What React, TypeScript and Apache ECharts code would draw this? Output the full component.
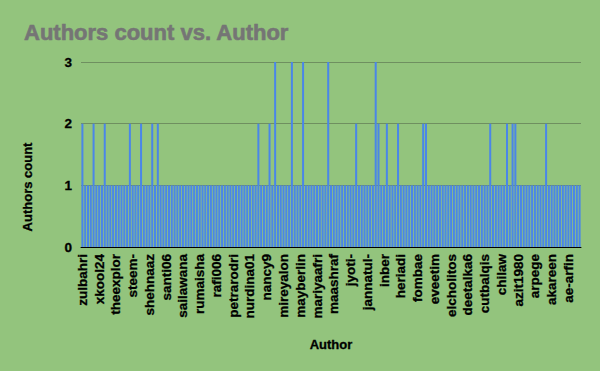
import React, { useEffect, useRef } from "react";
import * as echarts from "echarts";

// Every 6th author is labelled on the axis; the others are hidden.
const shownAuthors: string[] = [
  "zulbahri", "xkool24", "theexplor", "steem-", "shehnaaz", "santi06",
  "sailawana", "rumaisha", "rafi006", "petrarodri", "nurdina01", "nancy9",
  "mireyalon", "mayberlin", "mariyaafri", "maashraf", "jyoti-", "jannatul-",
  "inber", "heriadi", "fombae", "eveetim", "elcholitos", "deetalka6",
  "cutbalqis", "chilaw", "azit1980", "arpege", "akareen", "ae-arfin",
];

const authorsCount: number[] = [
  2, 1, 1, 1, 2, 1, 1, 1, 2, 1,
  1, 1, 1, 1, 1, 1, 1, 2, 1, 1,
  1, 2, 1, 1, 1, 2, 1, 2, 1, 1,
  1, 1, 1, 1, 1, 1, 1, 1, 1, 1,
  1, 1, 1, 1, 1, 1, 1, 1, 1, 1,
  1, 1, 1, 1, 1, 1, 1, 1, 1, 1,
  1, 1, 1, 2, 1, 1, 1, 2, 1, 3,
  1, 1, 1, 1, 1, 3, 1, 1, 1, 3,
  1, 1, 1, 1, 1, 1, 1, 1, 3, 1,
  1, 1, 1, 1, 1, 1, 1, 1, 2, 1,
  1, 1, 1, 1, 1, 3, 2, 1, 1, 2,
  1, 1, 1, 2, 1, 1, 1, 1, 1, 1,
  1, 1, 2, 2, 1, 1, 1, 1, 1, 1,
  1, 1, 1, 1, 1, 1, 1, 1, 1, 1,
  1, 1, 1, 1, 1, 1, 2, 1, 1, 1,
  1, 1, 2, 1, 2, 2, 1, 1, 1, 1,
  1, 1, 1, 1, 1, 1, 2, 1, 1, 1,
  1, 1, 1, 1, 1, 1, 1, 1, 1,
];

const labelEvery = 6;
const yTicks: number[] = [0, 1, 2, 3];
const titleText = "Authors count vs. Author";
const xTitle = "Author";
const yTitle = "Authors count";

const categories: string[] = authorsCount.map((_, i) =>
  i % labelEvery === 0 ? shownAuthors[i / labelEvery] ?? "" : ""
);

const FONT = "'Liberation Sans', Arial, sans-serif";
const heavy = (color: string, width: number) => ({
  textBorderColor: color,
  textBorderWidth: width,
});

export default function App() {
  const ref = useRef<HTMLDivElement>(null);
  useEffect(() => {
    if (!ref.current) return;
    const chart = echarts.init(ref.current, undefined, { renderer: "svg" });
    chart.setOption({
      animation: false,
      backgroundColor: "#93c47d",
      title: {
        text: titleText,
        left: 19,
        top: 16,
        textStyle: {
          fontFamily: FONT,
          fontSize: 22,
          fontWeight: "bold",
          color: "#757575",
          ...heavy("#757575", 0.6),
        },
      },
      graphic: [
        {
          type: "text",
          x: 27,
          y: 187,
          rotation: Math.PI / 2,
          style: {
            text: yTitle,
            fontFamily: FONT,
            fontSize: 13,
            fontWeight: "bold",
            fill: "#000",
            align: "center",
            verticalAlign: "middle",
            stroke: "#000",
            lineWidth: 0.3,
          },
        },
      ],
      grid: { left: 81, right: 19, top: 62, bottom: 124 },
      xAxis: {
        type: "category",
        data: categories,
        name: xTitle,
        nameLocation: "middle",
        nameGap: 91,
        nameTextStyle: {
          fontFamily: FONT,
          fontSize: 13,
          fontWeight: "bold",
          color: "#000",
          ...heavy("#000", 0.3),
        },
        axisLine: { show: true, lineStyle: { color: "#000", width: 1 } },
        axisTick: { show: false },
        axisLabel: {
          interval: labelEvery - 1,
          rotate: 90,
          margin: 7,
          fontFamily: FONT,
          fontSize: 13.5,
          fontWeight: "bold",
          color: "#000",
          ...heavy("#000", 0.3),
        },
      },
      yAxis: {
        type: "value",
        min: yTicks[0],
        max: yTicks[yTicks.length - 1],
        interval: 1,
        axisLine: { show: false },
        axisTick: { show: false },
        axisLabel: {
          margin: 9,
          fontFamily: FONT,
          fontSize: 13.5,
          fontWeight: "bold",
          color: "#000",
          ...heavy("#000", 0.3),
        },
        splitLine: { lineStyle: { color: "#6f8f60", width: 1 } },
      },
      series: [
        {
          type: "bar",
          data: authorsCount,
          barCategoryGap: "28%",
          itemStyle: { color: "#4a86e8" },
        },
      ],
    });
    return () => chart.dispose();
  }, []);
  return <div ref={ref} style={{ width: 600, height: 371, position: "absolute", left: 0, top: 0 }} />;
}
